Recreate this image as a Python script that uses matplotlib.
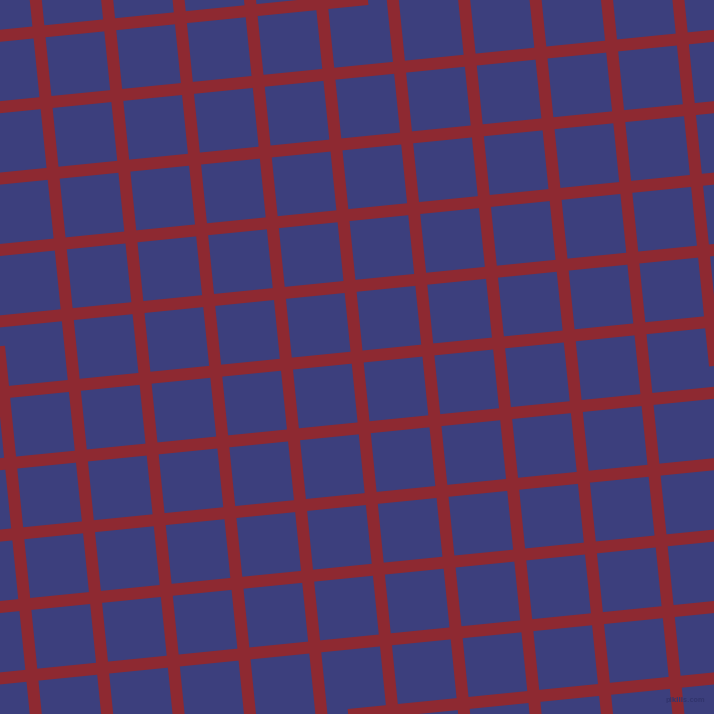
import numpy as np
import matplotlib
matplotlib.use("Agg")
import matplotlib.pyplot as plt
from matplotlib.transforms import Affine2D

# Grid data (positions in the rotated frame, pixels)
vertical_lines = [-106.5, -35.45, 35.6, 106.65, 177.7, 248.75, 319.8, 390.85,
                  461.9, 532.95, 604.0, 675.05, 746.1, 817.15]
horizontal_lines = [-106.5, -35.45, 35.6, 106.65, 177.7, 248.75, 319.8, 390.85,
                    461.9, 532.95, 604.0, 675.05, 746.1, 817.15]
span = [-300, 1100]
angle_deg = 5.71
watermark = "pikilis.com"

bg_color = "#3c3f7d"
line_color = "#8e2931"
line_px = 12

fig = plt.figure(figsize=(7.14, 7.14), dpi=100)
fig.patch.set_facecolor(bg_color)
ax = fig.add_axes([0, 0, 1, 1])
ax.set_facecolor(bg_color)
ax.set_xlim(0, 714)
ax.set_ylim(714, 0)
ax.axis("off")

rot = Affine2D().rotate_deg(-angle_deg) + ax.transData
lw = line_px * 72 / fig.dpi

for u in vertical_lines:
    ax.plot([u, u], span, color=line_color, lw=lw, solid_capstyle="butt", transform=rot)
for v in horizontal_lines:
    ax.plot(span, [v, v], color=line_color, lw=lw, solid_capstyle="butt", transform=rot)

ax.text(705, 700, watermark, ha="right", va="center", fontsize=4.8,
        color="#32356e", fontweight="bold", family="DejaVu Sans")

fig.savefig("out.png", dpi=100, facecolor=bg_color)
